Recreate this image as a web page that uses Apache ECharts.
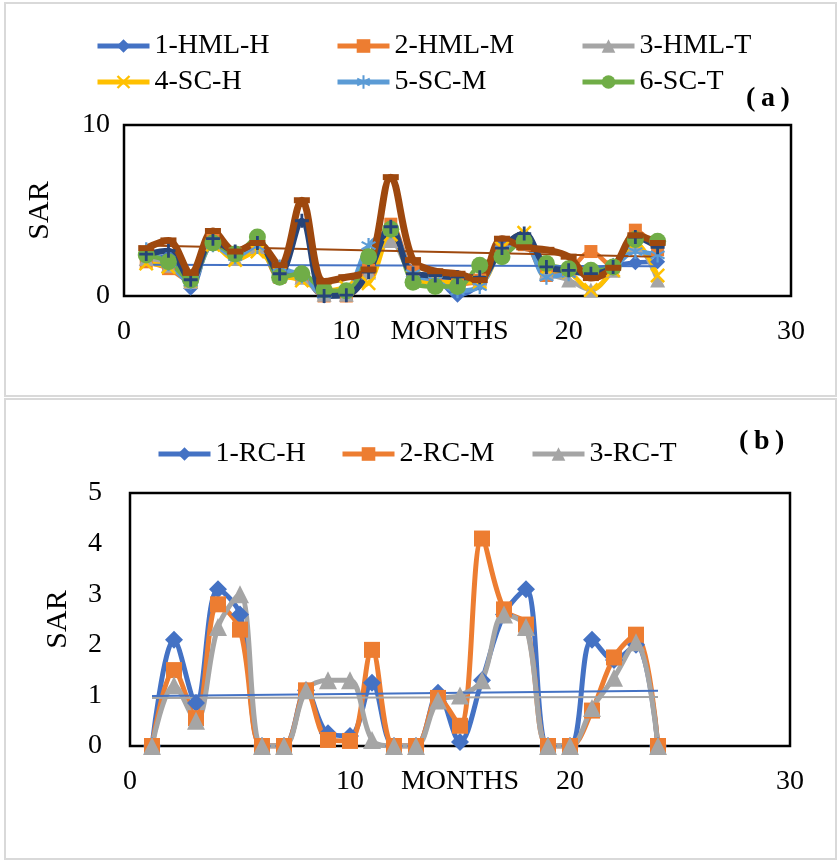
<!DOCTYPE html>
<html><head><meta charset="utf-8">
<script src="https://cdn.jsdelivr.net/npm/echarts@6/dist/echarts.min.js"></script>
<style>html,body{margin:0;padding:0;background:#fff}#c{width:838px;height:860px}</style>
</head><body><div id="c"></div>
<script>
// ---------- data ----------
const months = [1,2,3,4,5,6,7,8,9,10,11,12,13,14,15,16,17,18,19,20,21,22,23,24];
const xTicks = [0,10,20,30];
const yTicksA = [0,10];
const yTicksB = [0,1,2,3,4,5];

// panel (a)
const namesA = ['1-HML-H','2-HML-M','3-HML-T','4-SC-H','5-SC-M','6-SC-T'];
const hmlH = [2.3,2.3,0.45,3.2,2.5,3.0,1.4,1.2,0.0,0.1,1.6,3.9,1.3,1.1,0.05,0.7,3.1,3.3,1.3,1.4,1.5,1.8,1.95,2.0];
const hmlM = [2.0,1.6,0.85,3.45,2.45,3.0,1.1,1.1,0.0,0.0,1.5,4.2,1.4,1.0,0.7,0.93,2.7,3.0,1.2,1.5,2.6,1.7,3.85,2.7];
const hmlT = [2.2,1.8,0.85,3.1,2.2,2.9,1.2,1.1,0.1,0.1,1.4,3.25,1.2,1.0,0.8,1.0,2.6,3.2,1.4,0.93,0.35,1.5,3.0,0.93];
const scH  = [1.9,1.7,0.9,3.0,2.1,2.6,1.3,0.9,0.3,0.5,0.75,3.6,1.1,0.8,0.8,0.8,2.8,3.7,1.6,1.4,0.35,1.5,3.1,1.2];
const scM  = [2.7,1.9,0.8,3.0,2.3,2.9,1.7,1.2,0.1,0.3,2.95,3.8,1.3,0.9,0.3,0.55,2.7,3.1,1.1,1.3,1.4,1.7,2.6,2.4];
const scT  = [2.4,2.0,0.93,3.1,2.45,3.45,1.1,1.3,0.35,0.3,2.3,3.9,0.8,0.55,0.55,1.8,2.3,3.2,1.9,1.6,1.5,1.7,3.3,3.2];
const s7   = [2.45,2.65,0.95,3.35,2.6,3.1,1.3,4.4,0.0,0.05,1.4,4.05,1.3,1.2,1.1,1.1,2.8,3.65,1.7,1.5,1.3,1.7,3.45,2.85];
const s8   = [2.8,3.25,1.35,3.8,2.6,3.1,1.8,5.6,0.85,1.1,1.55,6.95,2.1,1.45,1.3,0.93,3.35,2.85,2.7,2.3,1.05,1.65,3.55,3.1];
const trendMonths = [1,24];
const trendA8 = [2.96,2.3];
const trendA1 = [1.83,1.74];

// panel (b)
const namesB = ['1-RC-H','2-RC-M','3-RC-T'];
const rcH = [0,2.1,0.85,3.1,2.6,0,0,1.1,0.25,0.2,1.25,0,0,1.05,0.08,1.3,2.6,3.1,0,0,2.1,1.7,2.0,0];
const rcM = [0,1.5,0.55,2.8,2.3,0,0,1.1,0.12,0.1,1.9,0,0,0.95,0.4,4.1,2.7,2.4,0,0,0.7,1.75,2.2,0];
const rcT = [0,1.2,0.5,2.35,3.0,0,0,1.1,1.3,1.3,0.12,0,0,0.9,1.0,1.3,2.6,2.35,0,0,0.75,1.35,2.05,0];
const trendB1 = [0.99,1.09];
const trendB3 = [0.95,0.97];

// ---------- styling ----------
const FONT = "'Liberation Serif','Times New Roman',serif";
const C = {blue:'#4472C4', orange:'#ED7D31', gray:'#A5A5A5', yellow:'#FFC000', ltblue:'#5B9BD5', green:'#70AD47', navy:'#264478', brown:'#9E480E'};
const SYM_X = 'path://M0,1.2 L1.2,0 L5,3.8 L8.8,0 L10,1.2 L6.2,5 L10,8.8 L8.8,10 L5,6.2 L1.2,10 L0,8.8 L3.8,5 Z';
const SYM_STAR = 'path://M4.3,0 H5.7 V3.8 L9,1.9 L9.7,3.1 L6.4,5 L9.7,6.9 L9,8.1 L5.7,6.2 V10 H4.3 V6.2 L1,8.1 L0.3,6.9 L3.6,5 L0.3,3.1 L1,1.9 L4.3,3.8 Z';
const SYM_PLUS = 'path://M4,0 H6 V4 H10 V6 H6 V10 H4 V6 H0 V4 H4 Z';

const zip = (ys) => months.map((m,i)=>[m, ys[i]]);
const zipT = (ys) => trendMonths.map((m,i)=>[m, ys[i]]);

function lineSeries(name, data, color, symbol, size, width, gi, extra){
  return Object.assign({
    name, type:'line', xAxisIndex:gi, yAxisIndex:gi, data: zip(data),
    smooth:0.35, symbol, symbolSize:size, showSymbol:true,
    lineStyle:{color, width}, itemStyle:{color, borderColor:color, borderWidth:0},
    emphasis:{disabled:true}, animation:false
  }, extra||{});
}
function trendSeries(data, color, gi){
  return {type:'line', xAxisIndex:gi, yAxisIndex:gi, data: zipT(data), smooth:false,
    symbol:'none', lineStyle:{color, width:2}, silent:true, animation:false, z:3};
}

const axisLabel = {fontFamily:FONT, fontSize:28, color:'#000'};

function xAxis(gi, margin, shift){
  return {type:'value', gridIndex:gi, min:xTicks[0], max:xTicks[xTicks.length-1], interval:xTicks[1]-xTicks[0],
    axisLine:{show:false}, axisTick:{show:false}, splitLine:{show:false},
    axisLabel:Object.assign({margin}, axisLabel),
    name:'MONTHS', nameLocation:'middle', nameGap:margin, nameMoveOverlap:false,
    nameTextStyle:{fontFamily:FONT, fontSize:28, color:'#000', verticalAlign:'top', padding:[0, shift, 0, 0]}};
}
function yAxis(gi, ticks, margin, nameGap){
  return {type:'value', gridIndex:gi, min:ticks[0], max:ticks[ticks.length-1], interval:ticks[1]-ticks[0],
    axisLine:{show:false}, axisTick:{show:false}, splitLine:{show:false},
    axisLabel:Object.assign({margin}, axisLabel),
    name:'SAR', nameLocation:'middle', nameGap, nameRotate:90, nameMoveOverlap:false,
    nameTextStyle:{fontFamily:FONT, fontSize:30, color:'#000'}};
}
function leg(name, left, top){
  return {data:[name], left, top, itemWidth:52, itemHeight:17, itemGap:6,
    lineStyle:{width:5},
    textStyle:{fontFamily:FONT, fontSize:28, color:'#000', padding:[0,0,0,0]},
    selectedMode:false, padding:0};
}

const chart = echarts.init(document.getElementById('c'), null, {renderer:'canvas'});
chart.setOption({
  backgroundColor:'#fff',
  animation:false,
  graphic:[
    {type:'rect', shape:{x:5,y:3,width:831,height:393}, style:{fill:'none', stroke:'#d9d9d9', lineWidth:2}, silent:true},
    {type:'rect', shape:{x:5,y:399,width:831,height:460}, style:{fill:'none', stroke:'#d9d9d9', lineWidth:2}, silent:true},
    {type:'text', left:746, top:85, style:{text:'(\u2009a\u2009)', fontFamily:FONT, fontSize:28, fontWeight:'bold', fill:'#000'}, silent:true},
    {type:'text', left:739, top:428, style:{text:'(\u2009b\u2009)', fontFamily:FONT, fontSize:28, fontWeight:'bold', fill:'#000'}, silent:true}
  ],
  legend:[
    leg(namesA[0], 95, 32), leg(namesA[1], 335, 32), leg(namesA[2], 580, 32),
    leg(namesA[3], 95, 68), leg(namesA[4], 335, 68), leg(namesA[5], 580, 68),
    leg(namesB[0], 156, 440), leg(namesB[1], 340, 440), leg(namesB[2], 530, 440)
  ],
  grid:[
    {left:124, top:125, width:667, height:171, show:true, borderColor:'#000', borderWidth:2.5, backgroundColor:'transparent'},
    {left:130, top:493, width:660, height:253, show:true, borderColor:'#000', borderWidth:2.5, backgroundColor:'transparent'}
  ],
  xAxis:[xAxis(0, 22, 16), xAxis(1, 22, 0)],
  yAxis:[yAxis(0, yTicksA, 14, 69), yAxis(1, yTicksB, 28, 57)],
  series:[
    lineSeries(namesA[0], hmlH, C.blue, 'diamond', 15, 4.5, 0),
    lineSeries(namesA[1], hmlM, C.orange, 'rect', 13, 4.5, 0),
    lineSeries(namesA[2], hmlT, C.gray, 'triangle', 15, 4.5, 0),
    lineSeries(namesA[3], scH, C.yellow, SYM_X, 15, 4.5, 0),
    lineSeries(namesA[4], scM, C.ltblue, SYM_STAR, 15, 4.5, 0),
    lineSeries(namesA[5], scT, C.green, 'circle', 17, 4.5, 0),
    trendSeries(trendA1, C.blue, 0),
    trendSeries(trendA8, C.brown, 0),
    lineSeries('S7', s7, C.navy, SYM_PLUS, 14, 6, 0),
    lineSeries('S8', s8, C.brown, 'rect', [16,6], 7, 0),
    lineSeries(namesB[0], rcH, C.blue, 'diamond', 18, 5, 1),
    lineSeries(namesB[1], rcM, C.orange, 'rect', 16, 5, 1),
    lineSeries(namesB[2], rcT, C.gray, 'triangle', 18, 5, 1),
    trendSeries(trendB1, C.blue, 1),
    trendSeries(trendB3, C.gray, 1)
  ]
});
</script>
</body></html>
